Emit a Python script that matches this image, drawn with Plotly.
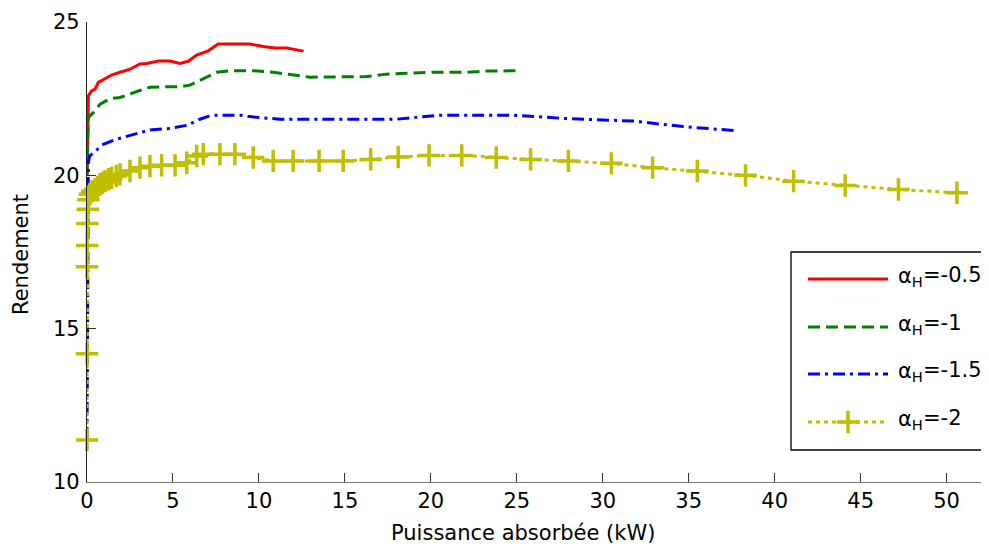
import plotly.graph_objects as go

# ---- data ----
red_x = [0, 0.05, 0.08, 0.27, 0.47, 0.66, 1.05, 1.43, 1.92, 2.5, 3.08, 3.47, 4.15, 4.83,
         5.41, 5.89, 6.38, 7.05, 7.63, 9.48, 10.25, 10.93, 11.6, 12.6]
red_y = [20.0, 21.2, 22.6, 22.75, 22.81, 23.03, 23.16, 23.27, 23.36, 23.46, 23.63, 23.65,
         23.73, 23.73, 23.65, 23.72, 23.92, 24.06, 24.28, 24.28, 24.2, 24.15, 24.15, 24.05]

green_x = [0, 0.05, 0.08, 0.47, 0.76, 1.34, 1.92, 2.98, 3.66, 4.83, 5.41, 5.99, 6.76, 7.54,
           8.31, 9.67, 10.83, 12.19, 12.97, 16.26, 17.42, 20.13, 22.07, 23.23, 25.17]
green_y = [20.0, 21.5, 21.89, 22.1, 22.32, 22.5, 22.54, 22.75, 22.87, 22.89, 22.89, 22.94,
           23.16, 23.36, 23.41, 23.41, 23.36, 23.25, 23.2, 23.22, 23.3, 23.36, 23.36, 23.4, 23.41]

blue_x = [0, 0.05, 0.08, 0.15, 0.47, 0.95, 1.72, 2.69, 3.66, 4.83, 5.8, 6.57, 7.25, 8.9,
          9.87, 11.22, 12.77, 18.0, 20.52, 24.78, 27.9, 31.77, 34.67, 37.87]
blue_y = [11.4, 20.2, 20.41, 20.63, 20.79, 21.01, 21.18, 21.34, 21.48, 21.53, 21.63, 21.83,
          21.96, 21.96, 21.89, 21.83, 21.83, 21.83, 21.96, 21.96, 21.85, 21.77, 21.59, 21.45]

yellow_x = [0, 0, 0, 0.01, 0.02, 0.04, 0.08, 0.17, 0.3, 0.47, 0.6, 0.76, 0.9, 1.05, 1.25,
            1.43, 1.7, 1.92, 2.5, 3.08, 3.66, 4.34, 5.12, 5.8, 6.38, 6.76, 7.73, 8.6, 9.67,
            10.83, 11.99, 13.5, 14.9, 16.5, 18.1, 19.9, 21.8, 23.8, 25.8, 28.0, 30.5, 32.9,
            35.5, 38.3, 41.1, 44.1, 47.2, 50.6]
yellow_y = [11.37, 14.18, 17.02, 17.71, 18.43, 18.89, 19.2, 19.38, 19.48, 19.54, 19.62,
            19.71, 19.76, 19.81, 19.87, 19.92, 19.98, 20.03, 20.14, 20.25, 20.3, 20.33,
            20.33, 20.41, 20.63, 20.69, 20.69, 20.69, 20.58, 20.47, 20.47, 20.47, 20.47,
            20.52, 20.6, 20.65, 20.65, 20.58, 20.52, 20.47, 20.39, 20.25, 20.14, 20.0,
            19.81, 19.67, 19.54, 19.43]

label_symbol = "α<sub>H</sub>"
label_values = ["=-0.5", "=-1", "=-1.5", "=-2"]
x_ticks = [0, 5, 10, 15, 20, 25, 30, 35, 40, 45, 50]
y_ticks = [10, 15, 20, 25]
x_title = "Puissance absorbée (kW)"
y_title = "Rendement"

# ---- styling ----
FONT = "DejaVu Sans"
FS = 21
RED, GREEN, BLUE, YEL = "#ff0000", "#008000", "#0000ff", "#bfbf00"
LW = 3
styles = [
    dict(color=RED, width=LW, dash="solid"),
    dict(color=GREEN, width=LW, dash="12px,6px"),
    dict(color=BLUE, width=LW, dash="12px,5px,3px,5px"),
    dict(color=YEL, width=LW, dash="4px,4px"),
]
plus_marker = dict(symbol="cross-thin", size=16, color=YEL, line=dict(color=YEL, width=3.5))

# page body has an 8px margin; all page-pixel positions below are shifted by it
OFF = 8
W, H = 989 - OFF, 550 - OFF
PW, PH = 894, 460
L, T = 87 - OFF, 22 - OFF


def px(xp):  # page x pixel -> paper x
    return (xp - OFF - L) / PW


def py(yp):  # page y pixel -> paper y
    return (T + PH - (yp - OFF)) / PH


fig = go.Figure()
data = [(red_x, red_y), (green_x, green_y), (blue_x, blue_y), (yellow_x, yellow_y)]
for i, (xs, ys) in enumerate(data):
    is_y = i == 3
    fig.add_trace(go.Scatter(
        x=xs, y=ys, mode="lines+markers" if is_y else "lines",
        line=styles[i], marker=plus_marker if is_y else None,
        showlegend=False, cliponaxis=False, hoverinfo="skip"))

# ---- custom legend (overlay axes spanning [0,1] of the plot area) ----
row_py = [279, 327, 374, 422]
sx0, sx1 = px(808), px(888)
for i, yp in enumerate(row_py):
    yy = py(yp)
    is_y = i == 3
    fig.add_trace(go.Scatter(
        x=[sx0, sx1], y=[yy, yy], mode="lines", line=styles[i],
        xaxis="x2", yaxis="y2", showlegend=False, cliponaxis=False, hoverinfo="skip"))
    if is_y:
        fig.add_trace(go.Scatter(
            x=[(sx0 + sx1) / 2], y=[yy], mode="markers", marker=plus_marker,
            xaxis="x2", yaxis="y2", showlegend=False, cliponaxis=False, hoverinfo="skip"))
    fig.add_annotation(text=label_symbol, x=px(897), y=py(yp - 4), yshift=-2,
                       xref="paper", yref="paper", xanchor="left", yanchor="middle",
                       showarrow=False, borderpad=0,
                       font=dict(family=FONT, size=FS, color="black"))
    fig.add_annotation(text=label_values[i], x=px(922), y=py(yp - 4),
                       xref="paper", yref="paper", xanchor="left", yanchor="middle",
                       showarrow=False, borderpad=0,
                       font=dict(family=FONT, size=FS, color="black"))

fig.add_shape(type="rect", xref="paper", yref="paper",
              x0=px(791), x1=1.08, y0=py(450), y1=py(252),
              line=dict(color="black", width=1.3), fillcolor="white", layer="below")

# axis titles
fig.add_annotation(text=x_title, xref="paper", yref="paper", x=px(523), y=py(533),
                   xanchor="center", yanchor="middle",
                   showarrow=False, font=dict(family=FONT, size=FS, color="black"))
fig.add_annotation(text=y_title, xref="paper", yref="paper", x=px(21), y=py(255),
                   xanchor="center", yanchor="middle", textangle=-90,
                   showarrow=False, font=dict(family=FONT, size=FS, color="black"))

fig.update_layout(
    width=W, height=H,
    margin=dict(l=L, r=W - L - PW, t=T, b=H - T - PH, autoexpand=False),
    paper_bgcolor="white", plot_bgcolor="white",
    font=dict(family=FONT, size=FS, color="black"),
    xaxis=dict(range=[0, 52], tickvals=x_ticks, ticks="inside", ticklen=9, tickwidth=1,
               tickcolor="#333333", showline=True, linecolor="#777777", linewidth=1.3,
               showgrid=False, zeroline=False, tickfont=dict(family=FONT, size=FS)),
    yaxis=dict(range=[10, 25], tickvals=y_ticks, ticks="inside", ticklen=9, tickwidth=1,
               tickcolor="#333333", showline=True, linecolor="#222222", linewidth=1.3,
               showgrid=False, zeroline=False, tickfont=dict(family=FONT, size=FS),
               ticklabelstandoff=2),
    xaxis2=dict(range=[0, 1], overlaying="x", visible=False, fixedrange=True),
    yaxis2=dict(range=[0, 1], overlaying="y", visible=False, fixedrange=True),
    showlegend=False,
)

fig.write_html("out.html")
